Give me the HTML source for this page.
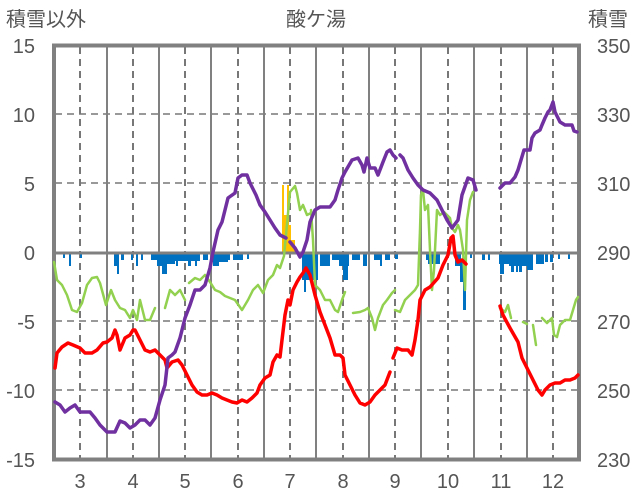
<!DOCTYPE html>
<html><head><meta charset="utf-8"><style>
body{margin:0;background:#fff;}
svg{display:block;font-family:"Liberation Sans","Noto Sans CJK JP",sans-serif;}
</style></head><body>
<svg width="636" height="501" viewBox="0 0 636 501">
<g font-size="20" fill="#555">
<text x="6" y="26">積雪以外</text>
<text x="316" y="26" text-anchor="middle">酸ケ湯</text>
<text x="588" y="26">積雪</text>
</g>
<g font-size="20" fill="#555" text-anchor="end">
<text x="35" y="53">15</text><text x="35" y="122">10</text><text x="35" y="191">5</text>
<text x="35" y="260">0</text><text x="35" y="329">-5</text><text x="35" y="398">-10</text><text x="35" y="467">-15</text>
</g>
<g font-size="20" fill="#555">
<text x="597" y="53">350</text><text x="597" y="122">330</text><text x="597" y="191">310</text>
<text x="597" y="260">290</text><text x="597" y="329">270</text><text x="597" y="398">250</text><text x="597" y="467">230</text>
</g>
<g font-size="20" fill="#555" text-anchor="middle">
<text x="80" y="488">3</text><text x="133" y="488">4</text><text x="185" y="488">5</text><text x="238" y="488">6</text><text x="290" y="488">7</text><text x="343" y="488">8</text><text x="395" y="488">9</text><text x="448" y="488">10</text><text x="501" y="488">11</text><text x="553" y="488">12</text>
</g>
<g stroke="#999" stroke-width="2" stroke-dasharray="7,5" fill="none">
<path d="M55 114H579M55 183H579M55 321H579M55 390H579"/>
<path d="M80 47V458M133 47V458M185 47V458M238 47V458M290 47V458M343 47V458M395 47V458M448 47V458M501 47V458M553 47V458" stroke="#777"/>
</g>
<g stroke="#808080" stroke-width="2">
<path d="M107 47V458M159 47V458M211 47V458M264 47V458M316 47V458M369 47V458M421 47V458M474 47V458M527 47V458"/>
</g>
<g fill="#0070C0">
<rect x="63" y="254" width="2" height="4"/><rect x="69" y="254" width="2" height="12"/><rect x="80" y="254" width="2" height="4"/>
<rect x="114" y="254" width="3" height="12"/><rect x="117" y="254" width="2" height="20"/><rect x="121" y="254" width="3" height="6"/><rect x="131" y="254" width="2" height="6"/><rect x="136" y="254" width="2" height="12"/><rect x="141" y="254" width="2" height="6"/>
<rect x="151" y="254" width="7" height="6"/><rect x="157" y="254" width="6" height="12"/><rect x="162" y="254" width="5" height="20"/><rect x="167" y="254" width="8" height="10"/><rect x="175" y="254" width="25" height="7"/><rect x="176" y="258" width="2" height="8"/><rect x="188" y="258" width="3" height="8"/><rect x="195" y="258" width="2" height="8"/>
<rect x="203" y="254" width="5" height="6"/><rect x="212" y="254" width="12" height="8"/><rect x="213" y="258" width="6" height="8"/><rect x="224" y="254" width="4" height="8"/><rect x="228" y="254" width="2" height="6"/><rect x="233" y="254" width="10" height="6"/><rect x="247" y="254" width="2" height="5"/>
<rect x="302" y="254" width="16" height="26"/><rect x="304" y="270" width="2" height="22"/>
<rect x="320" y="254" width="10" height="12"/><rect x="332" y="254" width="8" height="6"/><rect x="339" y="254" width="10" height="12"/><rect x="343" y="260" width="5" height="20"/><rect x="352" y="254" width="8" height="6"/><rect x="363" y="254" width="4" height="12"/><rect x="374" y="254" width="8" height="6"/><rect x="380" y="254" width="2" height="12"/><rect x="385" y="254" width="5" height="6"/><rect x="395" y="254" width="3" height="5"/>
<rect x="426" y="254" width="2" height="6"/><rect x="428" y="254" width="12" height="10"/><rect x="455" y="254" width="6" height="12"/><rect x="460" y="260" width="4" height="22"/><rect x="463" y="270" width="3" height="40"/><rect x="470" y="254" width="2" height="4"/>
<rect x="482" y="254" width="3" height="6"/><rect x="488" y="254" width="2" height="6"/><rect x="499" y="254" width="10" height="10"/><rect x="500" y="258" width="4" height="16"/><rect x="509" y="254" width="20" height="12"/><rect x="511" y="258" width="3" height="14"/><rect x="516" y="258" width="2" height="14"/><rect x="519" y="258" width="3" height="14"/><rect x="527" y="254" width="6" height="16"/><rect x="536" y="254" width="8" height="10"/><rect x="545" y="254" width="3" height="8"/><rect x="550" y="254" width="3" height="8"/><rect x="558" y="254" width="2" height="5"/><rect x="568" y="254" width="2" height="5"/>
</g>
<g fill="#FFC000">
<rect x="282" y="185" width="2" height="68"/><rect x="284" y="215" width="4" height="38"/><rect x="287" y="185" width="2" height="68"/><rect x="289" y="225" width="2" height="28"/><rect x="290" y="240" width="5" height="13"/>
</g>
<path d="M54 253H579" stroke="#808080" stroke-width="3"/>
<rect x="54" y="45.5" width="525" height="414" fill="none" stroke="#808080" stroke-width="4"/>
<g fill="none" stroke-linejoin="round" stroke-linecap="round">
<g stroke="#92D050" stroke-width="2.5">
<polyline points="54,262 57,280 62,285 67,295 72,310 77,312 82,303 87,285 92,278 97,277 100,283 106,305 111,290 115,300 120,308 125,310 130,318 133,310 137,320 140,300 145,320 150,320 155,308"/>
<polyline points="165,308 170,290 175,295 180,290 185,300"/>
<polyline points="189,283 195,278 200,280 205,275 210,282 215,290 220,292 225,296 230,298 235,300 242,310 248,300 253,290 258,285 263,293 268,280 273,275 277,265 280,268 284,256 286,235 290,192 295,186 297,193 300,210 303,205 307,215 311,213"/>
<polyline points="311,210 313,240 315,285 320,290 325,300 330,300 335,310 338,312 342,300 345,292"/>
<polyline points="353,313 360,312 365,310 368,308 372,318 375,330 378,318 383,305 387,300 392,293 395,290"/>
<polyline points="395,310 400,312 405,300 410,295 415,290 418,285 420,230 421,195 423,190 425,210 428,205 430,250 432,290 434,270 437,210 440,215 444,212 447,215 450,218 452,228 455,232 458,225 460,230 463,250 465,290 467,220 470,200 473,192"/>
<polyline points="500,308 505,312 508,305 511,318"/>
<polyline points="523,322 527,324"/><polyline points="533,325 536,345"/>
<polyline points="542,318 547,323 552,318 554,335 557,337 560,325 565,320 570,320 573,310 576,300 578,297"/>
</g>
<g stroke="#FF0000" stroke-width="3.5">
<polyline points="55,368 57,353 62,347 68,343 73,345 80,348 85,353 92,353 97,350 103,343 107,342 112,338 115,330 117,335 120,350 125,338 130,335 133,330 135,330 140,340 145,350 150,352 155,350 160,355 165,360 167,368 172,362 178,360 182,365 187,375 192,385 197,392 202,395 207,395 212,393 217,395 222,398 227,400 232,402 237,403 242,400 247,402 252,398 257,393 260,385 265,378 270,375 273,362 277,355 280,357 282,340 285,315 288,300 290,305 293,290 297,282 300,277 303,273 306,268 310,275 315,295 320,312 325,325 330,338 335,355 340,355 343,358 345,375 350,385 355,395 360,403 365,405 370,402 375,395 380,390 385,385 390,372"/>
<polyline points="393,358 397,348 402,350 408,350 412,355 415,340 418,320 420,300 425,290 430,287 438,278 443,265 448,255 451,238 453,236 455,255 458,262 462,260 466,264"/>
<polyline points="500,306 503,315 510,328 518,342 522,358 527,368 533,380 538,390 542,395 545,390 550,385 555,383 560,383 565,380 570,380 575,378 578,375"/>
</g>
<g stroke="#7030A0" stroke-width="3.5">
<polyline points="55,402 60,405 65,412 70,408 75,405 80,412 90,412 95,418 100,425 107,432 115,432 120,421 125,423 130,428 135,425 140,420 145,420 150,425 155,418 160,400 165,385 168,358 172,355 175,352 180,338 185,318 190,305 195,290 200,290 205,285 210,268 213,252 218,230 222,222 228,198 235,193 238,178 242,175 247,175 250,183 256,195 260,205 265,212 270,220 275,228 280,235 286,238"/>
<polyline points="290,242 295,248 300,257 303,252 307,240 310,222 315,210 320,207 330,207 335,200 338,190 342,178 345,172 352,160 358,158 362,165 364,172 367,158 370,168 375,168 378,175 383,162 387,152 390,150 393,155 396,158"/>
<polyline points="400,155 403,158 408,170 413,178 418,185 423,190 430,193 437,200 442,210 447,220 452,228 458,220 462,195 468,178 473,180 476,190"/>
<polyline points="500,188 505,183 510,183 515,177 518,170 521,160 524,150 530,150 532,138 535,133 540,130 542,125 545,118 548,112 550,110 553,102 555,112 560,122 565,125 572,125 574,131 577,132"/>
</g>
</g>
</svg>
</body></html>
